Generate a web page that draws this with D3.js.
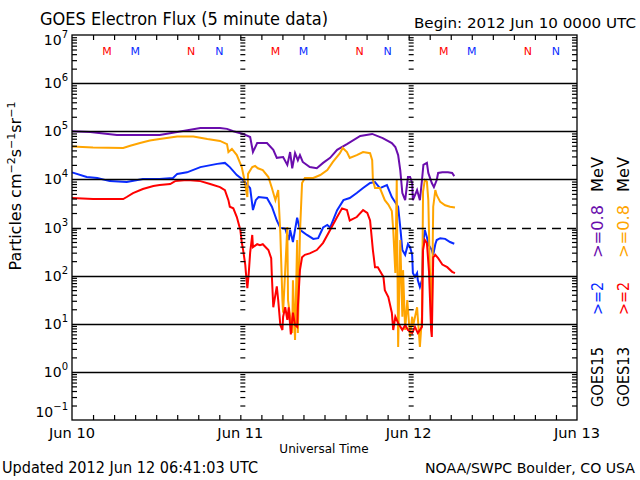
<!DOCTYPE html>
<html><head><meta charset="utf-8">
<script src="https://cdn.jsdelivr.net/npm/d3@7"></script>
<style>body{margin:0;background:#fff} svg{display:block} text{font-family:"DejaVu Sans",sans-serif}</style>
</head><body><svg id="c" width="640" height="480"></svg>
<script>
// hours since 2012 Jun 10 00:00 UTC, flux (particles cm^-2 s^-1 sr^-1)
const goes15_08 = [[0,1.0e5],[2.6,9.6e4],[6.4,8.4e4],[9.7,8.4e4],[12.5,8.4e4],[15.0,9.6e4],[18.3,1.17e5],[21.1,1.17e5],[22.1,1.12e5],[23.0,1.0e5],[24.4,8.8e4],[25.4,7.6e4],[25.8,3.7e4],[26.4,5.7e4],[27.8,5.7e4],[28.7,4.1e4],[29.2,2.8e4],[30.1,2.9e4],[30.7,2.0e4],[31.1,3.7e4],[31.4,1.7e4],[31.8,3.5e4],[32.2,2.5e4],[32.5,3.2e4],[32.9,2.3e4],[33.9,1.8e4],[34.9,1.7e4],[35.8,2.2e4],[36.8,2.8e4],[37.8,4.1e4],[39.2,5.4e4],[41.1,8.0e4],[42.8,8.8e4],[44.3,7.2e4],[45.6,5.7e4],[46.1,4.7e4],[46.5,3.2e4],[46.8,1.56e4],[47.1,5.2e3],[47.5,3.7e3],[47.9,1.12e4],[48.2,1.12e4],[48.5,8.4e3],[48.6,3.7e3],[49.2,6.0e3],[49.6,3.7e3],[49.9,9.7e3],[50.1,2.0e4],[50.6,2.2e4],[50.8,1.36e4],[51.3,8.4e3],[51.6,6.9e3],[52.0,9.7e3],[52.2,1.36e4],[52.8,1.4e4],[53.6,1.4e4],[54.2,1.36e4],[54.5,1.17e4]];
const goes15_2 = [[0,1.4e4],[2.1,1.12e4],[3.6,1.07e4],[5.4,9.2e3],[7.8,8.8e3],[10.1,1.02e4],[12.5,1.02e4],[14.4,1.07e4],[15.0,1.3e4],[16.4,1.4e4],[18.3,1.8e4],[20.7,2.1e4],[21.8,2.2e4],[22.5,1.8e4],[23.5,1.23e4],[24.4,9.7e3],[25.4,6.6e3],[25.8,2.3e3],[26.2,3.7e3],[26.6,4.3e3],[27.8,4.1e3],[28.5,2.7e3],[29.2,1.4e3],[29.7,980],[30.4,950],[30.9,550],[31.1,890],[31.5,500],[32.1,1.6e3],[32.5,890],[33.5,700],[34.4,580],[35.1,600],[35.8,1.0e3],[36.4,1.13e3],[36.8,1.0e3],[37.8,2.3e3],[38.7,3.7e3],[39.6,4.1e3],[40.6,5.2e3],[41.5,6.6e3],[42.5,8.4e3],[43.2,8.8e3],[43.9,6.6e3],[44.9,7.6e3],[45.6,4.3e3],[46.5,2.7e3],[46.8,1.02e3],[47.1,340],[47.5,270],[47.9,450],[48.2,390],[48.5,270],[48.6,113],[48.9,94],[49.2,113],[49.3,81],[49.6,58],[49.9,81],[50.05,450],[50.3,890],[50.6,630],[50.8,450],[51.3,340],[51.5,270],[51.8,450],[52.0,550],[52.5,600],[53.2,580],[53.9,500],[54.5,460]];
const goes13_08 = [[0,4.8e4],[3.0,4.6e4],[7.3,4.5e4],[8.3,5.0e4],[9.7,5.7e4],[11.1,6.4e4],[12.5,6.9e4],[15.0,7.8e4],[17.3,7.8e4],[19.3,6.9e4],[21.1,6.3e4],[22.1,5.4e4],[22.3,3.7e4],[22.8,4.3e4],[23.5,3.2e4],[24.2,1.8e4],[24.5,1.12e4],[25.0,4.3e3],[25.1,1.3e4],[25.7,1.8e4],[26.1,1.9e4],[26.5,1.7e4],[27.2,1.56e4],[28.0,1.12e4],[28.5,6.6e3],[29.0,3.7e3],[29.4,6.0e3],[29.7,770],[30.0,31],[30.1,17],[30.7,1.02e3],[30.8,31],[31.4,6.4],[31.5,80],[31.8,4.6],[32.1,550],[32.2,6.4],[32.5,770],[32.8,8.4e3],[33.2,1.07e4],[34.4,1.07e4],[35.4,1.23e4],[36.4,1.56e4],[37.2,2.3e4],[38.2,3.5e4],[38.6,4.5e4],[39.2,3.7e4],[39.6,2.8e4],[40.6,3.2e4],[41.5,3.7e4],[42.5,3.5e4],[42.8,2.5e4],[42.9,9.7e3],[43.2,6.6e3],[43.9,6.6e3],[44.6,3.7e3],[45.1,3.0e3],[45.6,2.2e3],[45.8,890],[46.1,113],[46.3,9.7e3],[46.5,3.3],[46.8,550],[47.1,14],[47.2,130],[47.5,7.4],[47.8,31],[48.2,5.3],[48.5,14],[48.6,8.6],[49.2,22],[49.6,3.3],[49.9,14],[50.05,5.5e3],[50.3,9.7e3],[50.6,9.0e3],[50.8,3.7e3],[51.0,170],[51.3,14],[51.5,2.7e3],[51.8,6.0e3],[52.0,4.7e3],[52.5,3.4e3],[53.2,2.9e3],[53.9,2.7e3],[54.6,2.6e3]];
const goes13_2 = [[0,4.1e3],[3.0,3.9e3],[7.3,3.9e3],[7.8,4.3e3],[8.7,5.2e3],[10.1,6.3e3],[11.6,7.3e3],[12.5,7.6e3],[14.0,8.0e3],[14.7,9.2e3],[16.4,9.7e3],[18.3,9.2e3],[19.7,8.0e3],[21.1,6.9e3],[21.8,6.0e3],[22.3,3.7e3],[22.5,2.7e3],[23.0,2.5e3],[23.5,1.65e3],[24.0,890],[24.2,500],[24.4,340],[24.7,170],[24.8,113],[25.0,55],[25.2,113],[25.4,300],[25.7,700],[25.8,390],[26.4,450],[26.8,430],[27.2,450],[28.0,340],[28.4,230],[28.5,94],[28.7,22],[29.2,60],[29.4,31],[29.7,9.4],[30.0,7.4],[30.1,14],[30.4,22],[30.7,12],[30.9,22],[31.2,6.0],[31.5,17],[31.8,9.4],[32.1,8.6],[32.2,22],[32.5,130],[32.8,240],[33.2,270],[33.9,290],[34.9,340],[35.8,480],[36.8,890],[37.8,1.65e3],[38.5,2.5e3],[39.2,2.3e3],[39.6,1.4e3],[40.6,1.65e3],[41.5,2.3e3],[42.1,2.0e3],[42.5,1.4e3],[42.9,340],[43.2,150],[43.6,150],[44.4,94],[44.6,50],[45.1,36],[45.6,17],[45.8,7.4],[46.1,14],[46.5,10.4],[47.1,7.4],[47.5,9.4],[47.9,7.4],[48.5,6.4],[48.9,8.6],[49.3,6.4],[49.9,8.6],[50.05,340],[50.3,550],[50.6,480],[50.9,120],[51.2,7.4],[51.3,5.3],[51.5,240],[51.8,270],[52.2,230],[52.8,170],[53.5,150],[54.2,120],[54.6,113]];

const yExponents = [7,6,5,4,3,2,1,0,-1];
const dayLabels = ["Jun 10","Jun 11","Jun 12","Jun 13"];
const dayHours = [0,24,48,72];
const goes13MarkHours = [5,17,29,41,53,65];
const goes13MarkText = ["M","N","M","N","M","N"];
const goes15MarkHours = [9,21,33,45,57,69];
const goes15MarkText = ["M","N","M","N","M","N"];

const t0 = Date.UTC(2012,5,10);
const toDate = h => new Date(t0 + h*3600e3);
const L=72,R=577,T=35,B=420;
const x = d3.scaleUtc().domain([toDate(0),toDate(72)]).range([L,R]);
const y = d3.scaleLog().domain([0.1,1e7]).range([B,T]);
const svg = d3.select("#c");
svg.append("rect").attr("width",640).attr("height",480).attr("fill","#fff");

// data
const line = d3.line().x(d=>x(toDate(d[0]))).y(d=>y(d[1]));
const series = [[goes15_08,"#6a0dad"],[goes15_2,"#0a2bff"],[goes13_08,"#ffa500"],[goes13_2,"#ff0000"]];
series.forEach(([d,c])=>svg.append("path").datum(d).attr("d",line).attr("fill","none").attr("stroke",c).attr("stroke-width",2).attr("stroke-linejoin","miter"));

// grid lines
const majors = yExponents.map(e=>Math.pow(10,e)).filter(v=>v<1e7 && v>0.1);
svg.append("g").selectAll("line").data(majors).join("line")
  .attr("x1",L).attr("x2",R).attr("y1",d=>Math.round(y(d))+0.5).attr("y2",d=>Math.round(y(d))+0.5)
  .attr("stroke","#000").attr("stroke-width",1.3)
  .attr("stroke-dasharray",d=>d===1e3?"9,6":null);

// minor log ticks
const minors=[];
for(let e=-1;e<7;e++) for(let k=2;k<=9;k++) minors.push(k*Math.pow(10,e));
const yLeft = d3.axisLeft(y).tickValues(minors).tickSize(-5).tickFormat("");
const yRight = d3.axisRight(y).tickValues(minors).tickSize(-5).tickFormat("");
const yDay = d3.axisRight(y).tickValues(minors).tickSize(5).tickFormat("");
svg.append("g").attr("transform",`translate(${L},0)`).call(yLeft).call(g=>g.select(".domain").remove());
svg.append("g").attr("transform",`translate(${R},0)`).call(yRight).call(g=>g.select(".domain").remove());
[24,48].forEach(h=>svg.append("g").attr("transform",`translate(${x(toDate(h))},0)`).call(yDay).call(g=>g.select(".domain").remove()));

// x ticks
const xt = d3.range(3,72,3).map(toDate);
svg.append("g").attr("transform",`translate(0,${B})`).call(d3.axisBottom(x).tickValues(xt).tickSize(-5).tickFormat("")).call(g=>g.select(".domain").remove());
svg.append("g").attr("transform",`translate(0,${T})`).call(d3.axisTop(x).tickValues(xt).tickSize(-5).tickFormat("")).call(g=>g.select(".domain").remove());
svg.selectAll(".tick line").attr("stroke","#000").attr("stroke-width",1.2);

// frame
svg.append("rect").attr("x",L).attr("y",T).attr("width",R-L).attr("height",B-T).attr("fill","none").attr("stroke","#000").attr("stroke-width",1.3);

// y labels
yExponents.forEach(e=>{
  let cy = y(Math.pow(10,e))+5;
  if(e===7) cy = T+10; if(e===-1) cy = B-3;
  const t = svg.append("text").attr("x",68).attr("y",cy).attr("text-anchor","end").attr("font-size",14);
  t.append("tspan").text("10");
  t.append("tspan").attr("dy",-7).attr("font-size",10).text(String(e).replace("-","\u2212"));
});

// x labels
dayLabels.forEach((s,i)=>svg.append("text").attr("x",x(toDate(dayHours[i]))).attr("y",438).attr("text-anchor","middle").attr("font-size",14).attr("textLength",46).attr("lengthAdjust","spacingAndGlyphs").text(s));
svg.append("text").attr("x",324).attr("y",453).attr("text-anchor","middle").attr("font-size",12).text("Universal Time");

// markers
goes13MarkHours.forEach((h,i)=>svg.append("text").attr("x",x(toDate(h))).attr("y",55).attr("text-anchor","middle").attr("font-size",11).attr("fill","#ff0000").text(goes13MarkText[i]));
goes15MarkHours.forEach((h,i)=>svg.append("text").attr("x",x(toDate(h))).attr("y",55).attr("text-anchor","middle").attr("font-size",11).attr("fill","#0a2bff").text(goes15MarkText[i]));

// titles
svg.append("text").attr("x",40).attr("y",25).attr("font-size",17).attr("textLength",288).attr("lengthAdjust","spacingAndGlyphs").text("GOES Electron Flux (5 minute data)");
svg.append("text").attr("x",414).attr("y",28).attr("font-size",14).attr("textLength",222).attr("lengthAdjust","spacingAndGlyphs").text("Begin: 2012 Jun 10 0000 UTC");
svg.append("text").attr("x",2).attr("y",473).attr("font-size",16).attr("textLength",256).attr("lengthAdjust","spacingAndGlyphs").text("Updated 2012 Jun 12 06:41:03 UTC");
svg.append("text").attr("x",425).attr("y",473).attr("font-size",13.5).attr("textLength",210).attr("lengthAdjust","spacingAndGlyphs").text("NOAA/SWPC Boulder, CO USA");

// y axis title
const yt = svg.append("text").attr("transform","translate(21,186) rotate(-90)").attr("text-anchor","middle").attr("font-size",16);
yt.append("tspan").text("Particles cm");
yt.append("tspan").attr("dy",-6).attr("font-size",11).text("\u22122");
yt.append("tspan").attr("dy",6).text("s");
yt.append("tspan").attr("dy",-6).attr("font-size",11).text("\u22121");
yt.append("tspan").attr("dy",6).text("sr");
yt.append("tspan").attr("dy",-6).attr("font-size",11).text("\u22121");

// right legend (rotated)
const legend = [
  [603,407,60,"GOES15","#000"],[603,315,33,">=2","#0a2bff"],[603,258,53,">=0.8","#6a0dad"],[603,192,35,"MeV","#000"],
  [629,407,60,"GOES13","#000"],[629,315,33,">=2","#ff0000"],[629,258,53,">=0.8","#ffa500"],[629,192,35,"MeV","#000"]
];
legend.forEach(([lx,ly,len,s,c])=>svg.append("text").attr("transform",`translate(${lx},${ly}) rotate(-90)`).attr("font-size",15).attr("fill",c).attr("textLength",len).attr("lengthAdjust","spacingAndGlyphs").text(s));
</script></body></html>
